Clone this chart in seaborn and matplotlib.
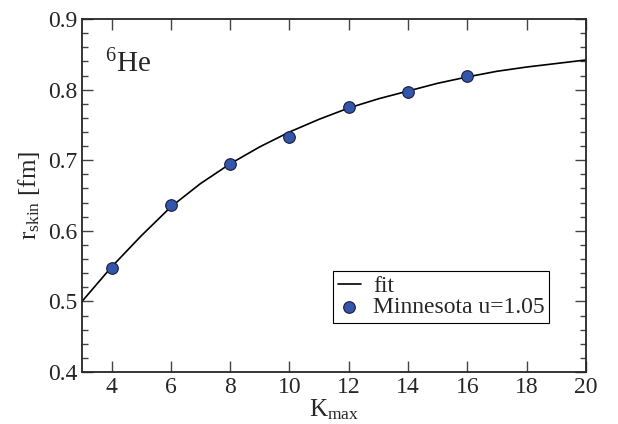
import numpy as np
import pandas as pd
import matplotlib
matplotlib.use('Agg')
import matplotlib.pyplot as plt
import seaborn as sns
from matplotlib.ticker import MultipleLocator

# data
k_max = [4, 6, 8, 10, 12, 14, 16]
r_skin = [0.547, 0.636, 0.695, 0.733, 0.775, 0.797, 0.820]

# fit curve, sampled at integer K
fit_k = [3, 4, 5, 6, 7, 8, 9, 10, 11, 12, 13, 14, 15, 16, 17, 18, 19, 20]
fit_r = [0.500, 0.549, 0.593, 0.634, 0.667, 0.695, 0.719, 0.740, 0.758,
         0.774, 0.787, 0.798, 0.809, 0.818, 0.826, 0.832, 0.837, 0.842]

sns.set_style('ticks')
plt.rcParams['font.family'] = ['Liberation Serif', 'DejaVu Serif']
plt.rcParams['mathtext.fontset'] = 'custom'
plt.rcParams['mathtext.rm'] = 'Liberation Serif'
plt.rcParams['mathtext.it'] = 'Liberation Serif:italic'

pts = pd.DataFrame({'K': k_max, 'r': r_skin})
fit = pd.DataFrame({'K': fit_k, 'r': fit_r})

fig = plt.figure(figsize=(6.18, 4.24), dpi=100)
ax = fig.add_axes([0.1327, 0.1226, 0.8153, 0.8325])

sns.lineplot(data=fit, x='K', y='r', ax=ax, color='black', linewidth=1.2,
             label='fit')
sns.scatterplot(data=pts, x='K', y='r', ax=ax, color='#3356a8', s=70,
                edgecolor='#1a1a40', linewidth=0.8, zorder=3,
                label='Minnesota u=1.05')

ax.set_xlim(3, 20)
ax.set_ylim(0.4, 0.9)
ax.xaxis.set_major_locator(MultipleLocator(2))
ax.yaxis.set_major_locator(MultipleLocator(0.1))
ax.yaxis.set_minor_locator(MultipleLocator(0.02))
ax.tick_params(which='both', direction='in', top=True, right=True,
               labelsize=17, color='#444444')
ax.tick_params(which='major', length=8, width=1)
ax.tick_params(which='minor', length=4, width=1)
for s in ax.spines.values():
    s.set_linewidth(1.3)

ax.set_xlabel(r'K$_{\rm max}$', fontsize=18, labelpad=0)
ax.set_ylabel(r'r$_{\rm skin}$ [fm]', fontsize=18, labelpad=4)

ax.text(0.045, 0.85, r'$^{6}$He', transform=ax.transAxes, fontsize=21)

leg = ax.legend(loc='upper left', bbox_to_anchor=(0.498, 0.287),
                fontsize=17, frameon=True, fancybox=False, framealpha=1,
                edgecolor='black', handlelength=1.0, handletextpad=0.5,
                borderpad=0.2, labelspacing=0.0, borderaxespad=0)
leg.get_frame().set_linewidth(0.8)

fig.savefig('out.png', dpi=100)
